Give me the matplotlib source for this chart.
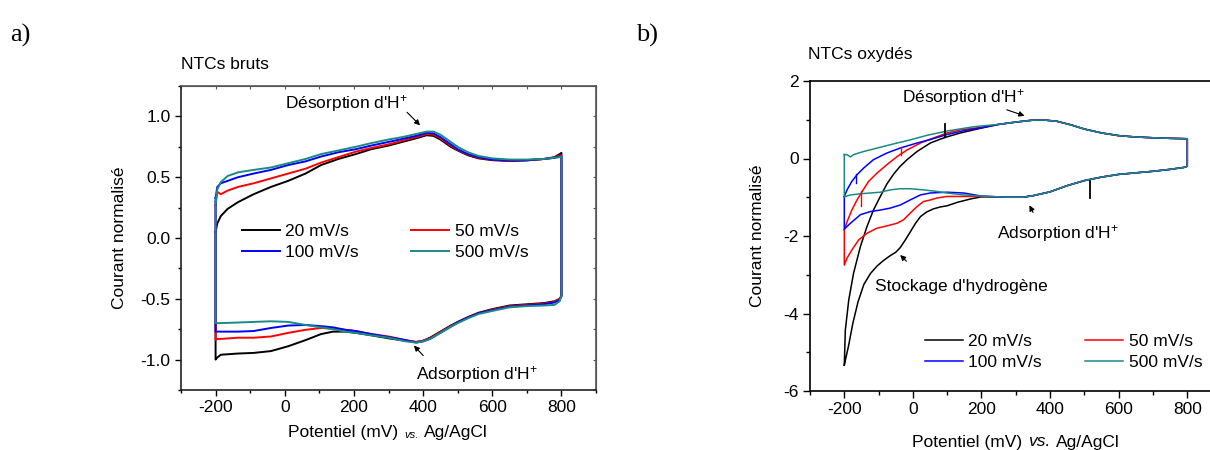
import matplotlib
matplotlib.use('Agg')
import matplotlib.pyplot as plt
from matplotlib.ticker import MultipleLocator, FormatStrFormatter
from matplotlib.offsetbox import TextArea, HPacker, AnchoredOffsetbox

plt.rcParams['font.family'] = ['Liberation Sans', 'DejaVu Sans']
plt.rcParams['axes.unicode_minus'] = False
plt.rcParams['mathtext.fontset'] = 'custom'
plt.rcParams['mathtext.rm'] = 'Liberation Sans'
plt.rcParams['mathtext.it'] = 'Liberation Sans:italic'
plt.rcParams['mathtext.bf'] = 'Liberation Sans:bold'

rates = ['20 mV/s', '50 mV/s', '100 mV/s', '500 mV/s']
colors = ['#000000', '#ff0000', '#0000ff', '#1a8a86']

# ---------------- Panel a : NTCs bruts ----------------
a_E_up = [-200, -195, -185, -165, -135, -90, -40, 10, 60, 105, 155, 205, 250, 300, 340,
          380, 410, 430, 450, 480, 500, 530, 560, 600, 650, 700, 750, 780, 795, 800]
a_I_up_20 = [0.05, 0.12, 0.18, 0.24, 0.295, 0.36, 0.42, 0.47, 0.53, 0.60, 0.65, 0.69, 0.73, 0.76, 0.79,
             0.82, 0.845, 0.84, 0.81, 0.75, 0.72, 0.68, 0.655, 0.64, 0.633, 0.638, 0.65, 0.665, 0.69, 0.70]
a_I_up_50 = [0.27, 0.38, 0.36, 0.39, 0.42, 0.45, 0.49, 0.53, 0.57, 0.62, 0.665, 0.71, 0.74, 0.77, 0.80,
             0.83, 0.855, 0.85, 0.82, 0.76, 0.725, 0.685, 0.66, 0.643, 0.636, 0.64, 0.65, 0.66, 0.68, 0.68]
a_I_up_100 = [0.33, 0.42, 0.45, 0.47, 0.50, 0.53, 0.56, 0.60, 0.63, 0.67, 0.705, 0.73, 0.76, 0.79, 0.815,
              0.84, 0.865, 0.86, 0.83, 0.77, 0.73, 0.69, 0.665, 0.645, 0.638, 0.64, 0.65, 0.66, 0.67, 0.67]
a_I_up_500 = [0.30, 0.40, 0.46, 0.51, 0.54, 0.56, 0.58, 0.615, 0.65, 0.69, 0.72, 0.75, 0.78, 0.81, 0.83,
              0.855, 0.875, 0.875, 0.85, 0.79, 0.75, 0.705, 0.675, 0.655, 0.645, 0.645, 0.65, 0.66, 0.665, 0.67]

a_E_down = [800, 795, 780, 750, 700, 650, 600, 560, 530, 500, 480, 450, 420, 400, 380,
            350, 300, 250, 205, 175, 140, 105, 60, 10, -40, -90, -135, -185, -198, -200]
a_I_down_20 = [-0.48, -0.50, -0.52, -0.535, -0.545, -0.555, -0.585, -0.615, -0.65, -0.69, -0.72, -0.77, -0.82, -0.845, -0.855,
               -0.845, -0.825, -0.80, -0.78, -0.77, -0.77, -0.79, -0.84, -0.89, -0.93, -0.945, -0.95, -0.96, -0.99, -1.0]
a_I_down_50 = [-0.48, -0.50, -0.525, -0.54, -0.55, -0.56, -0.59, -0.62, -0.655, -0.695, -0.725, -0.775, -0.825, -0.845, -0.855,
               -0.84, -0.81, -0.79, -0.765, -0.755, -0.745, -0.74, -0.755, -0.78, -0.81, -0.82, -0.82, -0.83, -0.83, -0.84]
a_I_down_100 = [-0.47, -0.51, -0.53, -0.545, -0.555, -0.565, -0.595, -0.62, -0.655, -0.695, -0.73, -0.78, -0.83, -0.85, -0.86,
                -0.84, -0.815, -0.79, -0.765, -0.755, -0.735, -0.725, -0.715, -0.72, -0.74, -0.765, -0.77, -0.77, -0.77, -0.77]
a_I_down_500 = [-0.47, -0.52, -0.55, -0.555, -0.56, -0.57, -0.60, -0.625, -0.66, -0.70, -0.73, -0.78, -0.83, -0.85, -0.86,
                -0.85, -0.82, -0.80, -0.78, -0.77, -0.75, -0.735, -0.715, -0.69, -0.685, -0.69, -0.695, -0.70, -0.70, -0.70]

# ---------------- Panel b : NTCs oxydés ----------------
b_E_up_common = [250, 300, 350, 380, 420, 460, 500, 550, 600, 650, 700, 750, 800]
b_I_up_common = [0.88, 0.94, 0.99, 0.995, 0.96, 0.87, 0.76, 0.66, 0.59, 0.555, 0.535, 0.52, 0.51]
b_E_down_common = [800, 790, 750, 700, 650, 600, 550, 500, 450, 400, 350, 320, 280, 250]
b_I_down_common = [-0.20, -0.23, -0.28, -0.33, -0.37, -0.41, -0.48, -0.57, -0.70, -0.86, -0.96, -1.0, -1.0, -0.99]

b_E_up_20 = [-200, -197, -187, -173, -153, -134, -115, -95, -76, -56, -37, -17, 12, 51, 80, 100, 139, 197]
b_I_up_20 = [-5.33, -4.43, -3.65, -2.96, -2.27, -1.76, -1.33, -0.98, -0.66, -0.40, -0.20, -0.03, 0.18, 0.40, 0.50, 0.56, 0.66, 0.78]
b_E_down_20 = [200, 170, 130, 100, 80, 60, 40, 22, 7, -8, -22, -37, -50, -65, -84, -104, -124, -143, -160, -175, -188, -200]
b_I_down_20 = [-0.99, -1.04, -1.13, -1.22, -1.25, -1.30, -1.38, -1.50, -1.68, -1.90, -2.10, -2.30, -2.42, -2.50, -2.62, -2.77,
               -2.97, -3.25, -3.70, -4.25, -4.85, -5.33]

b_E_up_50 = [-200, -192, -178, -163, -148, -129, -105, -76, -46, -17, 22, 51, 100, 139, 197]
b_I_up_50 = [-1.84, -1.63, -1.33, -1.07, -0.85, -0.59, -0.38, -0.16, 0.05, 0.22, 0.40, 0.50, 0.66, 0.74, 0.80]
b_E_down_50 = [200, 148, 99, 70, 51, 31, 12, -8, -27, -46, -76, -105, -134, -158, -178, -192, -200]
b_I_down_50 = [-0.98, -0.98, -0.98, -1.02, -1.07, -1.11, -1.24, -1.41, -1.58, -1.67, -1.74, -1.80, -1.93, -2.10, -2.36, -2.57, -2.75]

b_E_up_100 = [-200, -192, -178, -163, -144, -115, -76, -37, 12, 51, 100, 150, 197]
b_I_up_100 = [-0.98, -0.81, -0.59, -0.42, -0.25, -0.03, 0.14, 0.27, 0.40, 0.49, 0.62, 0.72, 0.79]
b_E_down_100 = [200, 148, 99, 51, 22, -8, -37, -66, -95, -124, -153, -182, -200]
b_I_down_100 = [-0.97, -0.89, -0.87, -0.89, -0.94, -1.07, -1.20, -1.28, -1.33, -1.37, -1.45, -1.67, -1.82]

b_E_up_500 = [-200, -192, -182, -173, -144, -95, -46, -8, 42, 100, 178, 200]
b_I_up_500 = [0.10, 0.10, 0.04, 0.10, 0.18, 0.29, 0.40, 0.48, 0.60, 0.71, 0.82, 0.84]
b_E_down_500 = [200, 148, 99, 70, 31, -8, -37, -66, -95, -124, -153, -182, -200]
b_I_down_500 = [-0.97, -0.94, -0.89, -0.85, -0.81, -0.78, -0.78, -0.81, -0.87, -0.89, -0.91, -0.94, -0.99]

# measurement spikes (potential, current from, current to)
b_spike_E = [95, 515, -150, -35, -165]
b_spike_I0 = [0.56, -0.57, -0.85, 0.08, -0.40]
b_spike_I1 = [0.90, -1.03, -1.22, 0.30, -0.62]
b_spike_series = [0, 0, 1, 1, 2]

W, H = 1210, 450
fig = plt.figure(figsize=(W / 100, H / 100), dpi=100)

FS = 12.5
TFS = 12.5


def px_axes(l, r, t, b):
    return fig.add_axes([l / W, 1 - b / H, (r - l) / W, (b - t) / H])


def xlabel(cx, cy, small):
    parts = [TextArea("Potentiel (mV)", textprops=dict(fontsize=FS)),
             TextArea("vs.", textprops=dict(fontsize=(8 if small else FS), style='italic')),
             TextArea("Ag/AgCl", textprops=dict(fontsize=FS))]
    box = HPacker(children=parts, align='baseline', pad=0, sep=4)
    ab = AnchoredOffsetbox(loc='center', child=box, frameon=False, pad=0, borderpad=0,
                           bbox_to_anchor=(cx / W, 1 - cy / H), bbox_transform=fig.transFigure)
    fig.add_artist(ab)


# ===== Panel a =====
ax = px_axes(181, 596, 86, 390)
a_up = [a_I_up_20, a_I_up_50, a_I_up_100, a_I_up_500]
a_dn = [a_I_down_20, a_I_down_50, a_I_down_100, a_I_down_500]
handles_a = []
for i in range(4):
    E = a_E_up + a_E_down + [a_E_up[0]]
    I = a_up[i] + a_dn[i] + [a_up[i][0]]
    h, = ax.plot(E, I, color=colors[i], lw=1.4, label=rates[i])
    handles_a.append(h)
ax.set_xlim(-300, 900)
ax.set_ylim(-1.25, 1.25)
ax.xaxis.set_major_locator(MultipleLocator(200))
ax.xaxis.set_minor_locator(MultipleLocator(100))
ax.yaxis.set_major_locator(MultipleLocator(0.5))
ax.yaxis.set_minor_locator(MultipleLocator(0.25))
ax.yaxis.set_major_formatter(FormatStrFormatter('%.1f'))
ax.tick_params(which='major', direction='out', length=4.5, width=1, labelsize=TFS, pad=3)
ax.tick_params(which='minor', direction='out', length=2.5, width=1)
for s in ax.spines.values():
    s.set_linewidth(1.2)
    s.set_color('#222222')
for s in ['top', 'right']:
    ax.spines[s].set_color('#555555')
secx = ax.secondary_xaxis('top')
secx.xaxis.set_major_locator(MultipleLocator(100))
secx.tick_params(direction='in', length=2, labeltop=False, color='#555555')
secx.spines['top'].set_color('#555555')
secy = ax.secondary_yaxis('right')
secy.yaxis.set_major_locator(MultipleLocator(0.25))
secy.tick_params(direction='in', length=2, labelright=False, color='#555555')
secy.spines['right'].set_color('#555555')
ax.set_ylabel('Courant normalisé', fontsize=FS, labelpad=10)
ax.legend([handles_a[0], handles_a[2], handles_a[1], handles_a[3]],
          [rates[0], rates[2], rates[1], rates[3]],
          ncol=2, frameon=False, fontsize=FS, loc='upper left',
          bbox_to_anchor=(0.147, 0.545), borderpad=0, borderaxespad=0,
          handlelength=2.2, handletextpad=0.3, columnspacing=3.0, labelspacing=0.33)
ax.text(0, 1.063, "Désorption d'H$^{+}$", fontsize=FS, va='baseline', ha='left')
ax.annotate('', xy=(397, 0.91), xytext=(348, 1.05),
            arrowprops=dict(arrowstyle='-|>', color='black', lw=0.8, mutation_scale=8))
ax.text(380, -1.159, "Adsorption d'H$^{+}$", fontsize=FS, va='baseline', ha='left')
ax.annotate('', xy=(368, -0.868), xytext=(406, -0.984),
            arrowprops=dict(arrowstyle='-|>', color='black', lw=0.8, mutation_scale=8))
fig.text(181 / W, 1 - 65 / H, 'NTCs bruts', fontsize=FS, va='center', ha='left')
fig.text(10 / W, 1 - 35 / H, 'a)', fontsize=19, va='center', ha='left', family='Liberation Serif')
xlabel(388, 433, True)

# ===== Panel b =====
bx = px_axes(810, 1221.6, 81, 391)
b_up_E = [b_E_up_20, b_E_up_50, b_E_up_100, b_E_up_500]
b_up_I = [b_I_up_20, b_I_up_50, b_I_up_100, b_I_up_500]
b_dn_E = [b_E_down_20, b_E_down_50, b_E_down_100, b_E_down_500]
b_dn_I = [b_I_down_20, b_I_down_50, b_I_down_100, b_I_down_500]
handles_b = []
for i in range(4):
    E = b_up_E[i] + b_E_up_common + b_E_down_common + b_dn_E[i] + [b_up_E[i][0]]
    I = b_up_I[i] + b_I_up_common + b_I_down_common + b_dn_I[i] + [b_up_I[i][0]]
    h, = bx.plot(E, I, color=colors[i], lw=1.1, label=rates[i])
    handles_b.append(h)
for e, i0, i1, si in zip(b_spike_E, b_spike_I0, b_spike_I1, b_spike_series):
    bx.plot([e, e], [i0, i1], color=colors[si], lw=1.3 if si == 0 else 1.0)
bx.set_xlim(-300, 900)
bx.set_ylim(-6, 2)
bx.xaxis.set_major_locator(MultipleLocator(200))
bx.xaxis.set_minor_locator(MultipleLocator(100))
bx.yaxis.set_major_locator(MultipleLocator(2))
bx.yaxis.set_minor_locator(MultipleLocator(1))
bx.tick_params(which='major', direction='out', length=5, width=1, labelsize=TFS, pad=3)
bx.tick_params(which='minor', direction='out', length=3, width=1)
for s in bx.spines.values():
    s.set_linewidth(1.2)
    s.set_color('black')
bx.set_ylabel('Courant normalisé', fontsize=FS, labelpad=13)
bx.legend([handles_b[0], handles_b[2], handles_b[1], handles_b[3]],
          [rates[0], rates[2], rates[1], rates[3]],
          ncol=2, frameon=False, fontsize=FS, loc='upper left',
          bbox_to_anchor=(0.279, 0.183), borderpad=0, borderaxespad=0,
          handlelength=2.2, handletextpad=0.3, columnspacing=2.5, labelspacing=0.33)
bx.text(-31, 1.457, "Désorption d'H$^{+}$", fontsize=FS, va='baseline', ha='left')
bx.annotate('', xy=(333, 1.08), xytext=(266, 1.28),
            arrowprops=dict(arrowstyle='-|>', color='black', lw=0.8, mutation_scale=8))
bx.text(246, -2.06, "Adsorption d'H$^{+}$", fontsize=FS, va='baseline', ha='left')
bx.annotate('', xy=(336, -1.145), xytext=(354, -1.455),
            arrowprops=dict(arrowstyle='-|>', color='black', lw=0.8, mutation_scale=8))
bx.text(-110, -3.42, "Stockage d'hydrogène", fontsize=FS, va='baseline', ha='left')
bx.annotate('', xy=(-43, -2.44), xytext=(-13, -2.70),
            arrowprops=dict(arrowstyle='-|>', color='black', lw=0.8, mutation_scale=8))
fig.text(808 / W, 1 - 55 / H, 'NTCs oxydés', fontsize=FS, va='center', ha='left')
fig.text(636 / W, 1 - 35 / H, 'b)', fontsize=19, va='center', ha='left', family='Liberation Serif')
xlabel(1016, 442, False)

fig.savefig('out.png', dpi=100)
